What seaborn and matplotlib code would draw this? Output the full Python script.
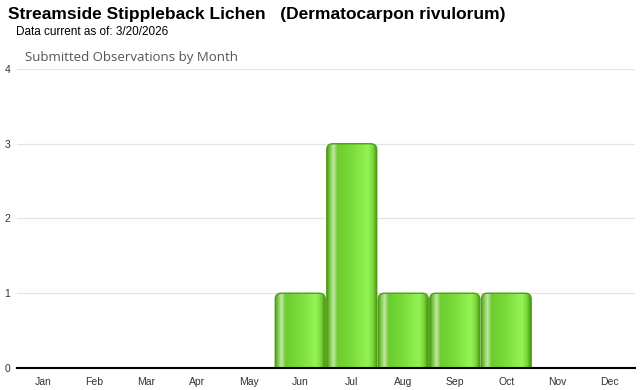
import numpy as np
import pandas as pd
import seaborn as sns
import matplotlib
matplotlib.use("Agg")
import matplotlib.pyplot as plt
from matplotlib.patches import FancyBboxPatch
from matplotlib.colors import LinearSegmentedColormap

months = ["Jan", "Feb", "Mar", "Apr", "May", "Jun", "Jul", "Aug", "Sep", "Oct", "Nov", "Dec"]
counts = [0, 0, 0, 0, 0, 1, 3, 1, 1, 1, 0, 0]
y_ticks = [0, 1, 2, 3, 4]
title = "Streamside Stippleback Lichen   (Dermatocarpon rivulorum)"
subtitle = "Data current as of: 3/20/2026"
chart_title = "Submitted Observations by Month"

sns.set_theme(style="white")
plt.rcParams["font.family"] = ["Liberation Sans", "DejaVu Sans"]

fig = plt.figure(figsize=(6.4, 3.9), dpi=100)
ax = fig.add_axes([17 / 640, 22 / 390, 618 / 640, 299 / 390])

df = pd.DataFrame({"month": months, "count": counts})
sns.barplot(data=df, x="month", y="count", ax=ax, width=0.97,
            color="#6ccc30", saturation=1, errorbar=None)
ax.set_xlim(-0.5, 11.5)
ax.set_ylim(0, 4)

cmap = LinearSegmentedColormap.from_list("bar", [
    (0.0, "#4c9c14"), (0.06, "#7ccc4c"), (0.13, "#c4e6a6"), (0.21, "#6ccc2e"),
    (0.5, "#7adc3a"), (0.82, "#94f454"), (0.92, "#7ad83c"), (1.0, "#4a9610")])
grad = np.linspace(0, 1, 256).reshape(1, -1)

xu_per_px = 12 / 618
yu_per_px = 4 / 299
aspect = yu_per_px / xu_per_px
r = 6 * xu_per_px

for p in list(ax.patches):
    h = p.get_height()
    x = p.get_x()
    w = p.get_width()
    p.set_visible(False)
    if h <= 0:
        continue
    box = FancyBboxPatch((x, -0.3), w, h + 0.3,
                         boxstyle=f"round,pad=0,rounding_size={r}",
                         mutation_aspect=aspect, facecolor="none",
                         edgecolor="none", transform=ax.transData)
    ax.add_patch(box)
    im = ax.imshow(grad, extent=(x, x + w, 0, h), aspect="auto", cmap=cmap,
                   zorder=2, interpolation="bilinear")
    im.set_clip_path(box)
    edge = FancyBboxPatch((x, -0.3), w, h + 0.3,
                          boxstyle=f"round,pad=0,rounding_size={r}",
                          mutation_aspect=aspect, facecolor="none",
                          edgecolor="#4f9e16", linewidth=1.0, zorder=3,
                          transform=ax.transData)
    ax.add_patch(edge)

ax.set_xlim(-0.5, 11.5)
ax.set_ylim(0, 4)
ax.set_yticks(y_ticks)
ax.set_yticklabels([str(v) for v in y_ticks])
ax.yaxis.grid(True, color="#e4e4e4", linewidth=0.9)
ax.set_axisbelow(True)
for s in ["top", "right", "left"]:
    ax.spines[s].set_visible(False)
ax.spines["bottom"].set_color("black")
ax.spines["bottom"].set_linewidth(1.5)
ax.spines["bottom"].set_zorder(5)
ax.tick_params(axis="y", length=0, pad=5, labelsize=7.5, labelcolor="#333333")
ax.tick_params(axis="x", length=0, pad=6.5, labelsize=7.5, labelcolor="#333333")
ax.set_xlabel("")
ax.set_ylabel("")

fig.text(8 / 640, 1 - 15 / 390, title, fontsize=12.5, fontweight="bold",
         color="black", va="center", ha="left")
fig.text(16 / 640, 1 - 32 / 390, subtitle, fontsize=8.5, color="black",
         va="center", ha="left")
fig.text(25 / 640, 1 - 58 / 390, chart_title, fontsize=9.5, color="#555555",
         va="center", ha="left", family=["Open Sans", "DejaVu Sans"])

fig.savefig("out.png", dpi=100)
